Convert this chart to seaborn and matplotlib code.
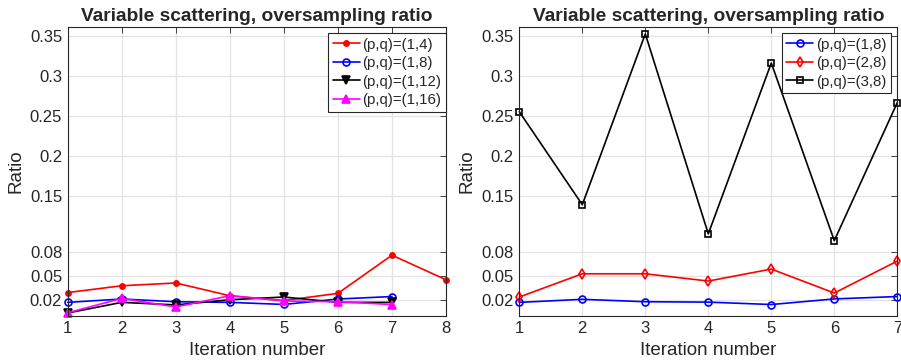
import matplotlib
matplotlib.use('Agg')
import matplotlib.pyplot as plt
import numpy as np
import pandas as pd
import seaborn as sns

# values
iters_left = [1, 2, 3, 4, 5, 6, 7, 8]
r_14 = [0.029, 0.0375, 0.041, 0.025, 0.019, 0.028, 0.0758, 0.045]
r_18 = [0.0167, 0.0209, 0.0175, 0.0167, 0.0141, 0.0209, 0.024]
r_112 = [0.0034, 0.0167, 0.0135, 0.020, 0.0234, 0.0167, 0.0167]
r_116 = [0.0037, 0.0216, 0.0109, 0.025, 0.0184, 0.0175, 0.014]

iters_right = [1, 2, 3, 4, 5, 6, 7]
r2_18 = [0.0167, 0.0205, 0.0175, 0.017, 0.014, 0.021, 0.024]
r2_28 = [0.0234, 0.0525, 0.0525, 0.0434, 0.0584, 0.0284, 0.0684]
r2_38 = [0.2555, 0.139, 0.353, 0.1025, 0.3165, 0.094, 0.267]

yticks = [0.02, 0.05, 0.08, 0.15, 0.2, 0.25, 0.3, 0.35]
ytick_labels = ['0.02', '0.05', '0.08', '0.15', '0.2', '0.25', '0.3', '0.35']

sns.set_style('white')
plt.rcParams['font.family'] = ['Liberation Sans', 'DejaVu Sans']

axcol = '#262626'
gridcol = '#e3e3e3'

fig = plt.figure(figsize=(9.01, 3.63), dpi=100)
W, H = 901, 363
axL = fig.add_axes([67.7 / W, (H - 315.7) / H, (446 - 67.7) / W, (315.7 - 26.7) / H])
axR = fig.add_axes([519.3 / W, (H - 315.7) / H, (897.3 - 519.3) / W, (315.7 - 26.7) / H])

left_series = [
    ('(p,q)=(1,4)', r_14, 'red', '.', 'red', 7.5),
    ('(p,q)=(1,8)', r_18, 'blue', 'o', 'none', 5),
    ('(p,q)=(1,12)', r_112, 'black', 'v', 'black', 5.5),
    ('(p,q)=(1,16)', r_116, 'magenta', '^', 'magenta', 5.5),
]
right_series = [
    ('(p,q)=(1,8)', r2_18, 'blue', 'o', 'none', 5),
    ('(p,q)=(2,8)', r2_28, 'red', 'd', 'none', 5),
    ('(p,q)=(3,8)', r2_38, 'black', 's', 'none', 4),
]

for ax, series, iters in [(axL, left_series, iters_left), (axR, right_series, iters_right)]:
    for label, vals, col, mk, mfc, ms in series:
        df = pd.DataFrame({'it': iters[:len(vals)], 'ratio': vals})
        sns.lineplot(data=df, x='it', y='ratio', ax=ax, color=col, marker=mk,
                     markerfacecolor=mfc, markeredgecolor=col, markersize=ms,
                     markeredgewidth=1.2, linewidth=1.2, label=label, clip_on=False)
    ax.set_xlim(iters[0], iters[-1])
    ax.set_xticks(iters)
    ax.set_ylim(0, 0.362)
    ax.set_yticks(yticks)
    ax.set_yticklabels(ytick_labels)
    ax.grid(True, color=gridcol, linewidth=0.9)
    ax.set_axisbelow(True)
    for s in ax.spines.values():
        s.set_color(axcol)
        s.set_linewidth(0.8)
    ax.tick_params(direction='in', length=4, width=0.6, colors=axcol, labelsize=12,
                   top=True, right=True, labelcolor='#262626', pad=4)
    ax.set_xlabel('Iteration number', fontsize=13.5, color='#262626', labelpad=4)
    ax.set_ylabel('Ratio', fontsize=13.5, color='#262626', labelpad=4)
    ax.set_title('Variable scattering, oversampling ratio', fontsize=13.8,
                 fontweight='bold', pad=4)

legL = axL.legend(loc='upper right', bbox_to_anchor=(1.0, 0.978), borderaxespad=0,
                  fontsize=10.8, frameon=True, fancybox=False, framealpha=1,
                  edgecolor=axcol, handlelength=1.8, handletextpad=0.2,
                  labelspacing=0.3, borderpad=0.3)
legR = axR.legend(loc='upper right', bbox_to_anchor=(0.984, 0.978), borderaxespad=0,
                  fontsize=10.8, frameon=True, fancybox=False, framealpha=1,
                  edgecolor=axcol, handlelength=1.8, handletextpad=0.2,
                  labelspacing=0.3, borderpad=0.3)
for leg in (legL, legR):
    leg.get_frame().set_linewidth(0.8)

fig.savefig('out.png', dpi=100)
